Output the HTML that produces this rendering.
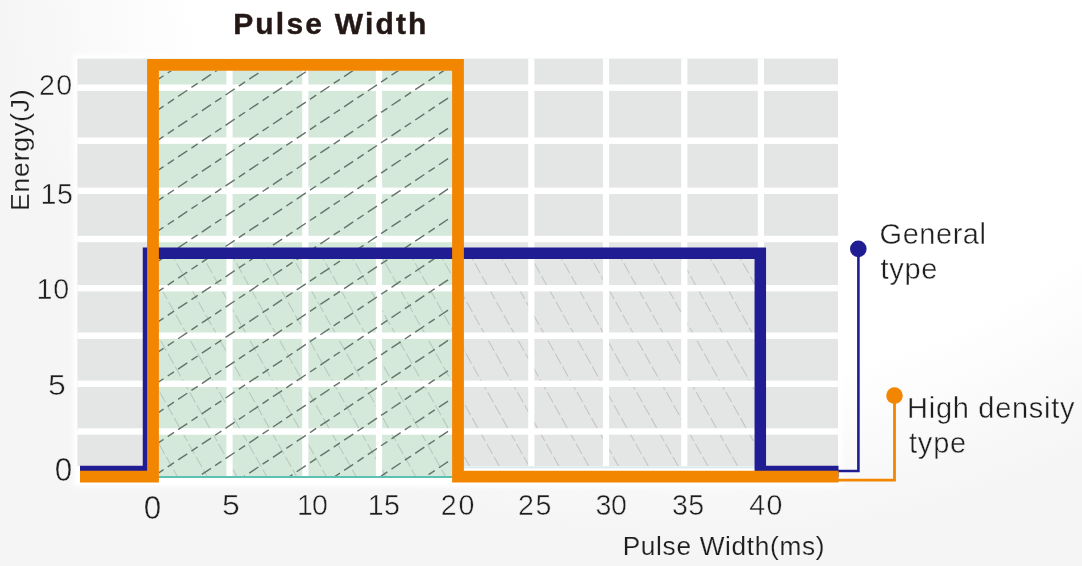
<!DOCTYPE html>
<html><head><meta charset="utf-8"><title>Pulse Width</title>
<style>html,body{margin:0;padding:0;background:#fff;}body{width:1082px;height:566px;overflow:hidden;font-family:"Liberation Sans",sans-serif;}svg{display:block}</style>
</head><body>
<svg width="1082" height="566" viewBox="0 0 1082 566">
<defs>
<radialGradient id="bg" gradientUnits="userSpaceOnUse" cx="700" cy="-20" r="760" gradientTransform="translate(700,-20) scale(1,0.8) translate(-700,20)"><stop offset="0" stop-color="#ffffff"/><stop offset="0.66" stop-color="#ffffff"/><stop offset="0.92" stop-color="#f5f5f5"/><stop offset="1" stop-color="#f5f5f5"/></radialGradient>
<clipPath id="co"><rect x="158.8" y="70.8" width="293.2" height="406.2"/></clipPath>
<clipPath id="cb"><rect x="154" y="258.7" width="600.2" height="207.3"/><rect x="158.8" y="258.7" width="293.2" height="218"/></clipPath>
<filter id="bl" x="-5%" y="-5%" width="110%" height="110%"><feGaussianBlur stdDeviation="2.5"/></filter>
</defs>
<rect width="1082" height="566" fill="url(#bg)"/>
<rect x="73.4" y="54.6" width="768.6" height="431.9" fill="#ffffff" filter="url(#bl)"/>
<rect x="79.4" y="464" width="758.6" height="20" fill="#ffffff"/>
<rect x="77.4" y="58.6" width="760.6" height="407.4" fill="#e4e5e5"/>
<rect x="158.8" y="70.8" width="293.2" height="406" fill="#d5e9db"/>
<g clip-path="url(#cb)" stroke="#3c4641" stroke-opacity="0.2" stroke-width="1.05" stroke-dasharray="11.5 3.3" stroke-dashoffset="2.9" fill="none"><path d="M-432.3 240L-297.5 480"/><path d="M-402.5 240L-267.7 480"/><path d="M-372.7 240L-237.9 480"/><path d="M-342.9 240L-208.1 480"/><path d="M-313.1 240L-178.3 480"/><path d="M-283.3 240L-148.5 480"/><path d="M-253.5 240L-118.7 480"/><path d="M-223.7 240L-88.9 480"/><path d="M-193.9 240L-59.1 480"/><path d="M-164.1 240L-29.3 480"/><path d="M-134.3 240L0.5 480"/><path d="M-104.5 240L30.3 480"/><path d="M-74.7 240L60.1 480"/><path d="M-44.9 240L89.9 480"/><path d="M-15.1 240L119.7 480"/><path d="M14.7 240L149.5 480"/><path d="M44.5 240L179.3 480"/><path d="M74.3 240L209.1 480"/><path d="M104.1 240L238.9 480"/><path d="M133.9 240L268.7 480"/><path d="M163.7 240L298.5 480"/><path d="M193.5 240L328.3 480"/><path d="M223.3 240L358.1 480"/><path d="M253.1 240L387.9 480"/><path d="M282.9 240L417.7 480"/><path d="M312.7 240L447.5 480"/><path d="M342.5 240L477.3 480"/><path d="M372.3 240L507.1 480"/><path d="M402.1 240L536.9 480"/><path d="M431.9 240L566.7 480"/><path d="M461.7 240L596.5 480"/><path d="M491.5 240L626.3 480"/><path d="M521.3 240L656.1 480"/><path d="M551.1 240L685.9 480"/><path d="M580.9 240L715.7 480"/><path d="M610.7 240L745.5 480"/><path d="M640.5 240L775.3 480"/><path d="M670.3 240L805.1 480"/><path d="M700.1 240L834.9 480"/><path d="M729.9 240L864.7 480"/><path d="M759.7 240L894.5 480"/><path d="M789.5 240L924.3 480"/><path d="M819.3 240L954.1 480"/><path d="M849.1 240L983.9 480"/><path d="M878.9 240L1013.7 480"/><path d="M908.7 240L1043.5 480"/><path d="M938.5 240L1073.3 480"/><path d="M968.3 240L1103.1 480"/><path d="M998.1 240L1132.9 480"/><path d="M1027.9 240L1162.7 480"/><path d="M1057.7 240L1192.5 480"/><path d="M1087.5 240L1222.3 480"/><path d="M1117.3 240L1252.1 480"/><path d="M1147.1 240L1281.9 480"/><path d="M1176.9 240L1311.7 480"/><path d="M1206.7 240L1341.5 480"/><path d="M1236.5 240L1371.3 480"/><path d="M1266.3 240L1401.1 480"/><path d="M1296.1 240L1430.9 480"/><path d="M1325.9 240L1460.7 480"/></g>
<rect x="77.4" y="84.5" width="760.6" height="6.4" fill="#fff"/>
<rect x="77.4" y="137.5" width="760.6" height="6.4" fill="#fff"/>
<rect x="77.4" y="187.6" width="760.6" height="6.4" fill="#fff"/>
<rect x="77.4" y="235.8" width="760.6" height="6.4" fill="#fff"/>
<rect x="77.4" y="285.0" width="760.6" height="6.4" fill="#fff"/>
<rect x="77.4" y="332.5" width="760.6" height="6.4" fill="#fff"/>
<rect x="77.4" y="380.6" width="760.6" height="6.4" fill="#fff"/>
<rect x="77.4" y="428.3" width="760.6" height="6.4" fill="#fff"/>
<rect x="226.4" y="58.6" width="6.2" height="417.9" fill="#fff"/>
<rect x="302.2" y="58.6" width="6.2" height="417.9" fill="#fff"/>
<rect x="375.9" y="58.6" width="6.2" height="417.9" fill="#fff"/>
<rect x="454.7" y="58.6" width="6.2" height="407.4" fill="#fff"/>
<rect x="528.2" y="58.6" width="6.2" height="407.4" fill="#fff"/>
<rect x="602.9" y="58.6" width="6.2" height="407.4" fill="#fff"/>
<rect x="681.2" y="58.6" width="6.2" height="407.4" fill="#fff"/>
<rect x="757.8" y="58.6" width="6.2" height="407.4" fill="#fff"/>
<g clip-path="url(#co)" stroke="#66756b" stroke-width="1.45" stroke-dasharray="11 5 7.5 5" stroke-dashoffset="23.2" fill="none"><path d="M150 -6.1L460 -212.9"/><path d="M150 24.2L460 -182.6"/><path d="M150 54.5L460 -152.3"/><path d="M150 84.8L460 -122.0"/><path d="M150 115.1L460 -91.7"/><path d="M150 145.4L460 -61.4"/><path d="M150 175.7L460 -31.1"/><path d="M150 206.0L460 -0.8"/><path d="M150 236.3L460 29.5"/><path d="M150 266.6L460 59.8"/><path d="M150 296.9L460 90.1"/><path d="M150 327.2L460 120.4"/><path d="M150 357.5L460 150.7"/><path d="M150 387.8L460 181.0"/><path d="M150 418.1L460 211.3"/><path d="M150 448.4L460 241.6"/><path d="M150 478.7L460 271.9"/><path d="M150 509.0L460 302.2"/><path d="M150 539.3L460 332.5"/><path d="M150 569.6L460 362.8"/><path d="M150 599.9L460 393.1"/><path d="M150 630.2L460 423.4"/><path d="M150 660.5L460 453.7"/><path d="M150 690.8L460 484.0"/><path d="M150 721.1L460 514.3"/><path d="M150 751.4L460 544.6"/><path d="M150 781.7L460 574.9"/><path d="M150 812.0L460 605.2"/></g>
<rect x="464" y="466.3" width="291" height="2.1" fill="#dbecf1"/>
<rect x="158" y="476" width="295" height="2" fill="#5fc0b4"/>
<path d="M80 471.5H148.5V253.3H760.3V471.5H838.5" fill="none" stroke="#201d92" stroke-width="11.5" stroke-linejoin="miter"/>
<path d="M838 471H858.4V248.6" fill="none" stroke="#201d92" stroke-width="2.6"/>
<circle cx="858.3" cy="248.9" r="8.3" fill="#201d92"/>
<path d="M80 476.7H153V64.8H458V476.7H838.5" fill="none" stroke="#f38600" stroke-width="11.8" stroke-linejoin="miter"/>
<path d="M838 480.1H894.5V395.6" fill="none" stroke="#f38600" stroke-width="2.8"/>
<circle cx="894.5" cy="395.6" r="8.3" fill="#f38600"/>
<g font-family="Liberation Sans, sans-serif" fill="#1e1e1e" stroke-width="0.55" opacity="0.999">
<text x="233.15" y="34.2" font-size="30" letter-spacing="2.19" font-weight="bold" fill="#231815" stroke="#231815" stroke-width="0.4">Pulse Width</text>
<text x="622.67" y="554.65" font-size="26.2" letter-spacing="0.7" stroke="#f5f5f5" stroke-width="0.15">Pulse Width(ms)</text>
<text transform="translate(29.2,211.05) rotate(-90)" font-size="26.6" letter-spacing="0.8" stroke="#f6f6f6" stroke-width="0.15">Energy(J)</text>
<text x="879.58" y="243.6" font-size="29" letter-spacing="0.53" stroke="#ffffff" stroke-width="0.4">General</text>
<text x="880.58" y="278.7" font-size="29" letter-spacing="0.68" stroke="#ffffff" stroke-width="0.4">type</text>
<text x="907.1" y="418.0" font-size="29" letter-spacing="0.71" stroke="#fafafa" stroke-width="0.4">High density</text>
<text x="908.98" y="453.0" font-size="29" letter-spacing="0.82" stroke="#f8f8f8" stroke-width="0.4">type</text>
<text transform="translate(143.66,518.9) scale(0.94,1)" font-size="33.4" letter-spacing="0" stroke="#f5f5f5" stroke-width="0.5">0</text>
<text transform="translate(222.12,514.8) scale(1.05,1)" font-size="30.4" letter-spacing="0" stroke="#f5f5f5" stroke-width="0.5">5</text>
<text transform="translate(297.02,514.8) scale(0.94,1)" font-size="30.4" letter-spacing="-0.98" stroke="#f5f5f5" stroke-width="0.5">10</text>
<text transform="translate(367.82,514.8) scale(0.94,1)" font-size="30.4" letter-spacing="0.32" stroke="#f5f5f5" stroke-width="0.5">15</text>
<text transform="translate(440.68,514.8) scale(0.94,1)" font-size="30.4" letter-spacing="2.15" stroke="#f5f5f5" stroke-width="0.5">20</text>
<text transform="translate(517.88,514.8) scale(0.94,1)" font-size="30.4" letter-spacing="1.86" stroke="#f5f5f5" stroke-width="0.5">25</text>
<text transform="translate(595.42,514.8) scale(0.94,1)" font-size="30.4" letter-spacing="-0.24" stroke="#f5f5f5" stroke-width="0.5">30</text>
<text transform="translate(672.12,514.8) scale(0.94,1)" font-size="30.4" letter-spacing="0.32" stroke="#f5f5f5" stroke-width="0.5">35</text>
<text transform="translate(749.32,514.8) scale(0.94,1)" font-size="30.4" letter-spacing="1.25" stroke="#f5f5f5" stroke-width="0.5">40</text>
<text transform="translate(38.88,94.8) scale(0.94,1)" font-size="30.4" letter-spacing="1.62" stroke="#f6f6f6" stroke-width="0.5">20</text>
<text transform="translate(40.42,204.0) scale(0.94,1)" font-size="30.4" letter-spacing="0.64" stroke="#f6f6f6" stroke-width="0.5">15</text>
<text transform="translate(36.52,299.4) scale(0.94,1)" font-size="30.4" letter-spacing="0.93" stroke="#f6f6f6" stroke-width="0.5">10</text>
<text transform="translate(47.98,394.6) scale(1.05,1)" font-size="30.4" letter-spacing="0" stroke="#f6f6f6" stroke-width="0.5">5</text>
<text transform="translate(54.66,480.8) scale(0.94,1)" font-size="33.4" letter-spacing="0" stroke="#f6f6f6" stroke-width="0.5">0</text>
</g>
</svg>
</body></html>
